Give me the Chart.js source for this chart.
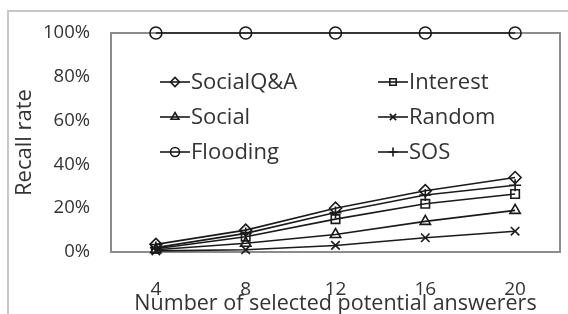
<!DOCTYPE html>
<html>
<head>
<meta charset="utf-8">
<script src="https://cdn.jsdelivr.net/npm/chart.js@4.4.1/dist/chart.umd.min.js"></script>
<style>
    html, body { margin: 0; padding: 0; background: #fff; }
    #wrap { position: relative; width: 568px; height: 314px; overflow: hidden; }
    #frame { position: absolute; left: 7px; top: 10px; width: 600px; height: 400px;
             border-top: 2px solid #c8c8c8; border-left: 2px solid #c8c8c8; }
    canvas { position: absolute; left: 0; top: 0; }
</style>
</head>
<body>
<div id="wrap">
    <div id="frame"></div>
    <canvas id="recallChart" width="568" height="314"></canvas>
</div>
<script>
// categories (number of selected potential answerers)
const answerers = ['4', '8', '12', '16', '20'];

// recall rate (%) per method
const socialQA = [3.5, 10, 20, 28, 34];
const interest = [1.5, 7, 15, 22, 26.5];
const social = [1, 4, 8, 14, 19];
const random = [0.5, 1, 3, 6.5, 9.5];
const flooding = [100, 100, 100, 100, 100];
const sos = [2, 8.5, 18, 26, 30.5];

const yTicks = [0, 20, 40, 60, 80, 100];

const FONT = '"Open Sans", Lato, sans-serif';
const TEXT = '#333333';

// legend layout: [label, column, row]
const legendItems = [
    ['SocialQ&A', 0, 0], ['Interest', 1, 0],
    ['Social', 0, 1], ['Random', 1, 1],
    ['Flooding', 0, 2], ['SOS', 1, 2]
];

function series(label, data, style) {
    return {
        label: label,
        data: data,
        borderColor: '#1a1a1a',
        borderWidth: 1.6,
        pointStyle: style,
        pointRadius: 6,
        pointBorderWidth: 1.6,
        pointBorderColor: '#1a1a1a',
        pointBackgroundColor: 'rgba(255,255,255,0)',
        tension: 0,
        clip: false
    };
}

// draws the two column legend inside the plot area, line + marker
const insideLegend = {
    id: 'insideLegend',
    afterDatasetsDraw(chart) {
        const ctx = chart.ctx;
        const colX = [160, 378];
        const rowY = [82, 117, 152];
        ctx.save();
        legendItems.forEach(([label, col, row]) => {
            const ds = chart.data.datasets.find(d => d.label === label);
            const x = colX[col], y = rowY[row];
            ctx.strokeStyle = '#1a1a1a';
            ctx.lineWidth = 1.6;
            ctx.beginPath();
            ctx.moveTo(x, y);
            ctx.lineTo(x + 30, y);
            ctx.stroke();
            ctx.fillStyle = 'rgba(255,255,255,0)';
            Chart.helpers.drawPoint(ctx, {
                pointStyle: ds.pointStyle, radius: 4.5, borderWidth: 1.6
            }, x + 15, y);
            ctx.fillStyle = TEXT;
            ctx.font = '22px ' + FONT;
            ctx.textBaseline = 'middle';
            ctx.fillText(label, x + 31, y + 1);
        });
        ctx.restore();
    }
};

// gray box around the plot area
const plotBorder = {
    id: 'plotBorder',
    beforeDatasetsDraw(chart) {
        const { ctx, chartArea: a } = chart;
        ctx.save();
        ctx.strokeStyle = '#8c8c8c';
        ctx.lineWidth = 2;
        ctx.strokeRect(a.left, a.top, a.right - a.left, a.bottom - a.top);
        ctx.restore();
    }
};

const ctx = document.getElementById('recallChart').getContext('2d');
new Chart(ctx, {
    type: 'line',
    data: {
        labels: answerers,
        datasets: [
            series('Flooding', flooding, 'circle'),
            series('Random', random, 'crossRot'),
            series('Social', social, 'triangle'),
            series('Interest', interest, 'rect'),
            series('SOS', sos, 'cross'),
            series('SocialQ&A', socialQA, 'rectRot')
        ]
    },
    options: {
        responsive: false,
        animation: false,
        layout: { padding: { top: 33, right: 8, left: 0, bottom: 0 } },
        plugins: {
            legend: { display: false },
            tooltip: { enabled: false }
        },
        scales: {
            x: {
                offset: true,
                afterFit(scale) { scale.height = 62; },
                grid: { display: false, drawTicks: true, tickLength: 5, color: '#bbb' },
                border: { display: false },
                ticks: { color: TEXT, font: { family: FONT, size: 19 }, padding: 21 },
                title: {
                    display: true,
                    text: 'Number of selected potential answerers',
                    color: TEXT,
                    font: { family: FONT, size: 21.5 },
                    padding: { top: 0, bottom: -3 }
                }
            },
            y: {
                min: 0,
                max: 100,
                afterFit(scale) { scale.width = 111; },
                afterBuildTicks(scale) { scale.ticks = yTicks.map(v => ({ value: v })); },
                grid: { display: false, drawOnChartArea: false, drawTicks: true, tickLength: 7, color: '#8c8c8c' },
                border: { display: false },
                ticks: {
                    color: TEXT,
                    font: { family: FONT, size: 18.5 },
                    padding: 14,
                    callback: v => v + '%'
                },
                title: {
                    display: true,
                    text: 'Recall rate',
                    color: TEXT,
                    font: { family: FONT, size: 22 },
                    padding: { top: 12, bottom: 0 }
                }
            }
        }
    },
    plugins: [plotBorder, insideLegend]
});
</script>
</body>
</html>
